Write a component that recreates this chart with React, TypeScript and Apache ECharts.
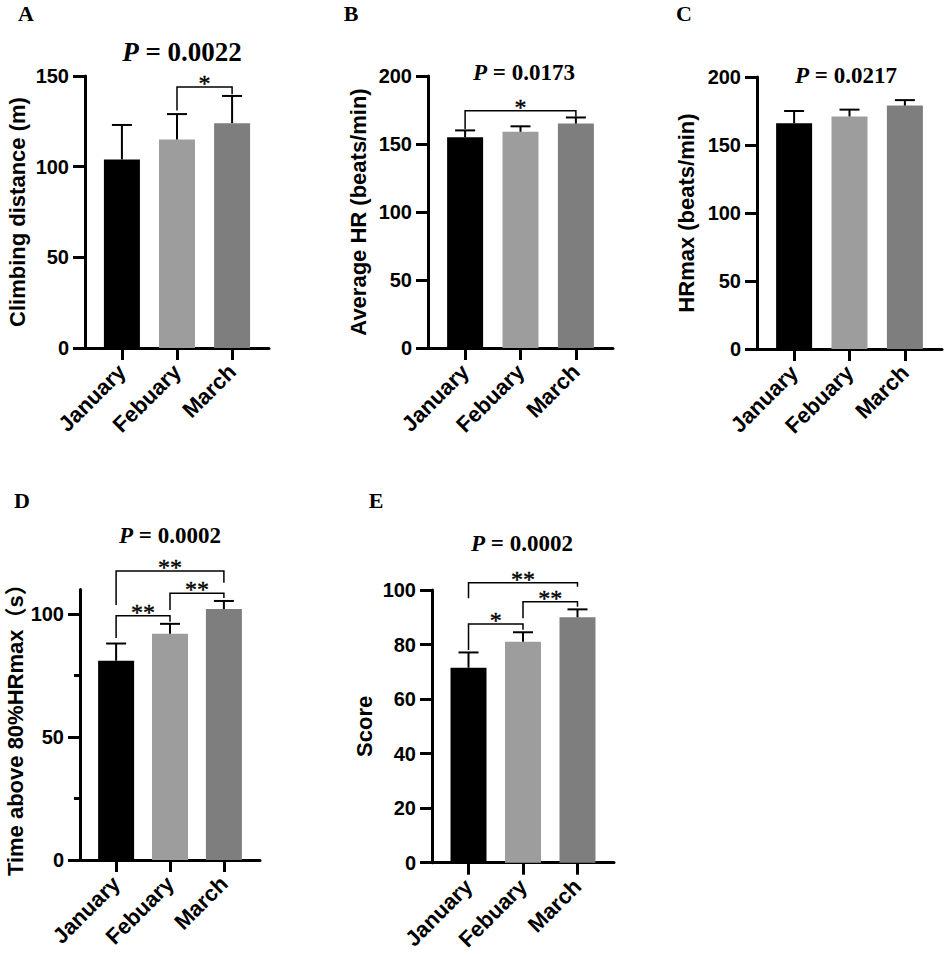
import React, { useEffect, useRef } from 'react';
import * as echarts from 'echarts';

const categories = ['January', 'Febuary', 'March'];
const barColors = ['#000000', '#9d9d9d', '#7e7e7e'];

// Panel A: Climbing distance (m)
const climbMean = [104, 115, 124];
const climbErr = [19, 14, 15];
const climbBrackets = [[1, 2, 144, 131, 140]];
const climbMarks = ['*'];

// Panel B: Average HR (beats/min)
const avgHrMean = [155, 159, 165];
const avgHrErr = [5, 4, 4.5];
const avgHrBrackets = [[0, 2, 174.5, 161, 170]];
const avgHrMarks = ['*'];

// Panel C: HRmax (beats/min)
const hrMaxMean = [166, 171, 179];
const hrMaxErr = [9, 5, 4];

// Panel D: Time above 80%HRmax (s)
const timeMean = [81, 92, 102];
const timeErr = [7, 4, 3.3];
const timeBrackets = [
  [0, 1, 99.3, 90.2, 96.9],
  [1, 2, 108.4, 101.6, 106.5],
  [0, 2, 117.5, 103.7, 112.7],
];
const timeMarks = ['**', '**', '**'];

// Panel E: Score
const scoreMean = [71.5, 81, 90];
const scoreErr = [5.6, 3.5, 2.9];
const scoreBrackets = [
  [0, 1, 87.5, 78, 85.4],
  [1, 2, 95.7, 89.6, 93.9],
  [0, 2, 102.7, 97, 101.2],
];
const scoreMarks = ['*', '**', '**'];

const yTicksA = [0, 50, 100, 150];
const yTicksB = [0, 50, 100, 150, 200];
const yTicksD = [0, 50, 100];
const yMinorD = [25, 75];
const yTicksE = [0, 20, 40, 60, 80, 100];

const pTexts = ['0.0022', '0.0173', '0.0217', '0.0002', '0.0002'];
const panelLetters = ['A', 'B', 'C', 'D', 'E'];

const SANS = '"Liberation Sans", Arial, sans-serif';
const SERIF = '"Liberation Serif", "Times New Roman", serif';

export default function App() {
  const ref = useRef<HTMLDivElement>(null);

  useEffect(() => {
    if (!ref.current) return;
    document.body.style.margin = '0';
    const chart = echarts.init(ref.current, undefined, { renderer: 'svg' });

    const panels = [
      { grid: { left: 85, top: 76, width: 184, height: 272 }, max: 150, interval: 50, ticks: yTicksA, name: 'Climbing distance (m)', nameGap: 57, mean: climbMean, err: climbErr, brackets: climbBrackets, marks: climbMarks },
      { grid: { left: 428, top: 76, width: 185, height: 272 }, max: 200, interval: 50, ticks: yTicksB, name: 'Average HR (beats/min)', nameGap: 59, mean: avgHrMean, err: avgHrErr, brackets: avgHrBrackets, marks: avgHrMarks },
      { grid: { left: 757, top: 77, width: 185, height: 272 }, max: 200, interval: 50, ticks: yTicksB, name: 'HRmax (beats/min)', nameGap: 60, mean: hrMaxMean, err: hrMaxErr, brackets: [], marks: [] },
      { grid: { left: 80, top: 589.4, width: 180, height: 270.6 }, max: 110, interval: 50, ticks: yTicksD, minor: yMinorD, name: 'Time above 80%HRmax（s）', nameGap: 54, mean: timeMean, err: timeErr, brackets: timeBrackets, marks: timeMarks },
      { grid: { left: 432, top: 590, width: 182, height: 272.7 }, max: 100, interval: 20, ticks: yTicksE, name: 'Score', nameGap: 57, mean: scoreMean, err: scoreErr, brackets: scoreBrackets, marks: scoreMarks },
    ];

    const grids: any[] = [];
    const xAxes: any[] = [];
    const yAxes: any[] = [];
    const series: any[] = [];

    panels.forEach((p, gi) => {
      grids.push({ ...p.grid, containLabel: false });
      xAxes.push({
        type: 'value',
        gridIndex: gi,
        min: -0.67,
        max: 2.67,
        splitLine: { show: false },
        axisLine: { show: true, onZero: false, lineStyle: { color: '#000', width: 3 } },
        axisTick: { show: true, length: 12, lineStyle: { color: '#000', width: 3 }, customValues: [0, 1, 2] },
        axisLabel: {
          show: true,
          customValues: [0, 1, 2],
          formatter: (v: number) => categories[Math.round(v)] ?? '',
          rotate: 45,
          margin: 20,
          color: '#000',
          fontSize: 22,
          fontWeight: 'bold',
          fontFamily: SANS,
        },
      });
      const mainY = yAxes.length;
      yAxes.push({
        type: 'value',
        gridIndex: gi,
        position: 'left',
        min: 0,
        max: p.max,
        interval: p.interval,
        name: p.name,
        nameLocation: 'middle',
        nameGap: p.nameGap,
        nameTextStyle: { color: '#000', fontSize: 22, fontWeight: 'bold', fontFamily: SANS + ', "Noto Sans CJK SC"' },
        splitLine: { show: false },
        axisLine: { show: true, onZero: false, lineStyle: { color: '#000', width: 3 } },
        axisTick: { show: true, length: 12, lineStyle: { color: '#000', width: 3 }, customValues: p.ticks },
        axisLabel: { show: true, customValues: p.ticks, margin: 16, color: '#000', fontSize: 20, fontWeight: 'bold', fontFamily: SANS },
      });
      if ((p as any).minor) {
        yAxes.push({
          type: 'value',
          gridIndex: gi,
          position: 'left',
          min: 0,
          max: p.max,
          interval: p.interval,
          splitLine: { show: false },
          axisLine: { show: false, onZero: false },
          axisTick: { show: true, length: 6, lineStyle: { color: '#000', width: 3 }, customValues: (p as any).minor },
          axisLabel: { show: false },
        });
      }

      series.push({
        type: 'bar',
        xAxisIndex: gi,
        yAxisIndex: mainY,
        barWidth: 36,
        data: p.mean.map((v, i) => ({ value: [i, v], itemStyle: { color: barColors[i] } })),
        z: 2,
      });

      series.push({
        type: 'custom',
        xAxisIndex: gi,
        yAxisIndex: mainY,
        z: 4,
        data: p.mean.map((v, i) => [i, v, v + p.err[i]]),
        renderItem: (params: any, api: any) => {
          const x = api.value(0);
          const lo = api.coord([x, api.value(1)]);
          const hi = api.coord([x, api.value(2)]);
          const half = 10;
          return {
            type: 'group',
            children: [
              { type: 'line', shape: { x1: lo[0], y1: lo[1], x2: hi[0], y2: hi[1] }, style: { stroke: '#000', lineWidth: 2 } },
              { type: 'line', shape: { x1: hi[0] - half, y1: hi[1], x2: hi[0] + half, y2: hi[1] }, style: { stroke: '#000', lineWidth: 2 } },
            ],
          };
        },
      });

      if (p.brackets.length) {
        const marks = p.marks;
        series.push({
          type: 'custom',
          xAxisIndex: gi,
          yAxisIndex: mainY,
          z: 4,
          clip: false,
          data: p.brackets,
          renderItem: (params: any, api: any) => {
            const a = api.value(0), b = api.value(1), y = api.value(2);
            const la = api.value(3), lb = api.value(4);
            const p1 = api.coord([a, la]);
            const p2 = api.coord([a, y]);
            const p3 = api.coord([b, y]);
            const p4 = api.coord([b, lb]);
            return {
              type: 'group',
              children: [
                { type: 'polyline', shape: { points: [p1, p2, p3, p4] }, style: { stroke: '#000', lineWidth: 1.5, fill: 'none' } },
                {
                  type: 'text',
                  x: (p2[0] + p3[0]) / 2,
                  y: p2[1] - 4,
                  style: {
                    legacy: false,
                    text: marks[params.dataIndex],
                    fill: '#000',
                    stroke: '#000',
                    lineWidth: 0.4,
                    font: '24px ' + SERIF,
                    align: 'center',
                    verticalAlign: 'middle',
                  },
                },
              ],
            };
          },
        });
      }
    });

    const letterPos = [[26, 13], [351, 13], [684, 13], [22, 500], [376, 500]];
    const pPos = [[182, 52, 27], [524, 72, 23], [846, 75, 23], [170, 535, 23], [522, 543, 23]];

    const graphic: any[] = [];
    panelLetters.forEach((l, i) => {
      graphic.push({
        type: 'text',
        x: letterPos[i][0],
        y: letterPos[i][1],
        style: { text: l, fill: '#000', font: 'bold 22px ' + SERIF, align: 'center', verticalAlign: 'middle' },
      });
    });
    pTexts.forEach((t, i) => {
      const fs = pPos[i][2];
      graphic.push({
        type: 'text',
        x: pPos[i][0],
        y: pPos[i][1],
        style: {
          text: '{p|P} = ' + t,
          fill: '#000',
          font: 'bold ' + fs + 'px ' + SERIF,
          align: 'center',
          verticalAlign: 'middle',
          rich: { p: { fontStyle: 'italic', fontWeight: 'bold', fontSize: fs, fontFamily: SERIF, fill: '#000' } },
        },
      });
    });

    chart.setOption({
      animation: false,
      backgroundColor: '#fff',
      grid: grids,
      xAxis: xAxes,
      yAxis: yAxes,
      series,
      graphic,
    });

    return () => chart.dispose();
  }, []);

  return <div ref={ref} style={{ position: 'fixed', left: 0, top: 0, width: 944, height: 956 }} />;
}
